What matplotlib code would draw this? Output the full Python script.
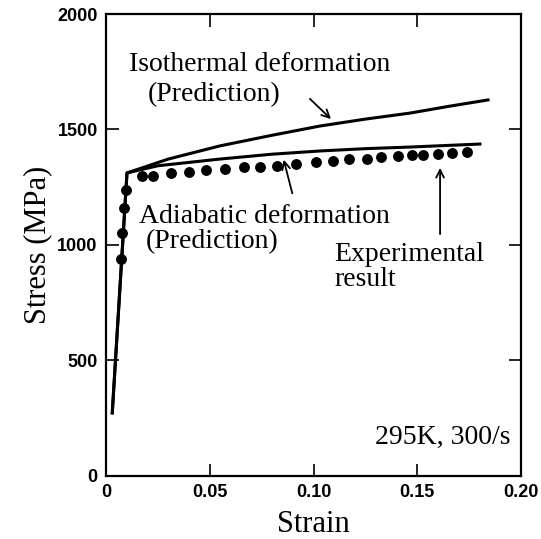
import numpy as np
import matplotlib.pyplot as plt

plt.rcParams.update({
    'font.family': 'Liberation Serif',
    'axes.linewidth': 1.6,
    'xtick.direction': 'in',
    'ytick.direction': 'in',
    'xtick.top': True,
    'ytick.right': True,
})

# Predictions (strain, stress in MPa)
iso_strain = [0.003, 0.0101, 0.030, 0.0549, 0.0800, 0.1031, 0.1250, 0.1465, 0.1650, 0.1841]
iso_stress = [273, 1312, 1372, 1429, 1475, 1515, 1545, 1571, 1600, 1628]
adi_strain = [0.003, 0.0101, 0.025, 0.0549, 0.0800, 0.1031, 0.1250, 0.1465, 0.1802]
adi_stress = [273, 1312, 1343, 1372, 1393, 1407, 1417, 1424, 1437]

# Experimental result
exp_strain = [0.0070, 0.0079, 0.0088, 0.0095, 0.0173, 0.0227, 0.0313, 0.0400, 0.0482,
              0.0573, 0.0665, 0.0742, 0.0824, 0.0916, 0.1012, 0.1094, 0.1171, 0.1258,
              0.1325, 0.1407, 0.1475, 0.1528, 0.1600, 0.1667, 0.1740]
exp_stress = [940, 1050, 1160, 1240, 1299, 1299, 1312, 1316, 1325,
              1329, 1338, 1338, 1342, 1351, 1359, 1364, 1372, 1372,
              1381, 1385, 1390, 1390, 1394, 1398, 1403]

xticks = [0, 0.05, 0.10, 0.15, 0.20]
xtick_labels = ['0', '0.05', '0.10', '0.15', '0.20']
yticks = [0, 500, 1000, 1500, 2000]

fig = plt.figure(figsize=(5.41, 5.39), dpi=100)
ax = fig.add_axes([0.196, 0.117, 0.767, 0.857])

ax.plot(iso_strain, iso_stress, color='black', lw=2.2)
ax.plot(adi_strain, adi_stress, color='black', lw=2.2)
ax.plot(exp_strain, exp_stress, 'o', color='black', ms=6.8, zorder=3)

ax.set_xlim(0, 0.2)
ax.set_ylim(0, 2000)
ax.set_xticks(xticks)
ax.set_xticklabels(xtick_labels)
ax.set_yticks(yticks)
ax.tick_params(length=9, width=1.2, pad=6)
for lab in ax.get_xticklabels() + ax.get_yticklabels():
    lab.set_family('Liberation Sans')
    lab.set_fontweight('bold')
    lab.set_fontsize(13)

ax.set_xlabel('Strain', fontsize=22, labelpad=6)
ax.set_ylabel('Stress (MPa)', fontsize=22, labelpad=4)

# Annotations
fs = 20
arrow = dict(arrowstyle='->', color='black', lw=1.3, mutation_scale=14)
ax.text(0.0110, 1780, 'Isothermal deformation', fontsize=fs, va='center')
ax.text(0.0200, 1650, '(Prediction)', fontsize=fs, va='center')
ax.annotate('', xy=(0.1094, 1537), xytext=(0.0973, 1641), arrowprops=arrow)

ax.text(0.0160, 1125, 'Adiabatic deformation', fontsize=fs, va='center')
ax.text(0.0190, 1015, '(Prediction)', fontsize=fs, va='center')
ax.annotate('', xy=(0.0853, 1381), xytext=(0.0901, 1212), arrowprops=arrow)

ax.text(0.1100, 960, 'Experimental', fontsize=fs, va='center')
ax.text(0.1100, 850, 'result', fontsize=fs, va='center')
ax.annotate('', xy=(0.161, 1346), xytext=(0.161, 1035), arrowprops=arrow)

ax.text(0.195, 165, '295K, 300/s', fontsize=fs, ha='right', va='center')

fig.savefig('out.png', dpi=100)
